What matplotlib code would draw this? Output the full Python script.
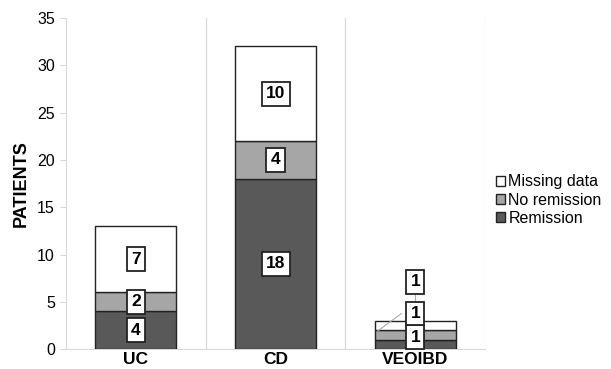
import numpy as np
import matplotlib.pyplot as plt

categories = ['UC', 'CD', 'VEOIBD']
remission = [4, 18, 1]
no_remission = [2, 4, 1]
missing = [7, 10, 1]
series_names = ['Remission', 'No remission', 'Missing data']
colors = ['#595959', '#a6a6a6', '#ffffff']

fig = plt.figure(figsize=(6.11, 3.69), dpi=100)
ax = fig.add_axes([0.108, 0.054, 0.686, 0.897])

x = np.arange(len(categories))
w = 0.58
bottom = np.zeros(len(categories))
handles = []
for vals, name, c in zip([remission, no_remission, missing], series_names, colors):
    b = ax.bar(x, vals, w, bottom=bottom, color=c, edgecolor='#222222', lw=1.0,
               label=name, zorder=3)
    handles.append(b)
    bottom = bottom + np.array(vals)

box = dict(boxstyle='square,pad=0.25', fc='white', ec='#222222', lw=1.3)
lab = dict(ha='center', va='center', fontsize=12.5, fontweight='bold', bbox=box,
           zorder=5, family='Liberation Sans')
# labels for the two tall bars, in segment centres
for i in range(2):
    base = 0
    for vals in [remission, no_remission, missing]:
        ax.text(x[i], base + vals[i] / 2, str(vals[i]), **lab)
        base += vals[i]

# VEOIBD labels are pushed upward with leader lines
i = 2
ax.text(x[i], 1.25, str(remission[i]), **lab)
ax.plot([x[i] - 0.27, x[i] - 0.1], [remission[i] + no_remission[i] / 2 + 0.4, 3.75],
        color='#aaaaaa', lw=0.8, zorder=4)
ax.text(x[i], 3.75, str(no_remission[i]), **lab)
ax.plot([x[i], x[i]], [3.75, 7.1], color='#aaaaaa', lw=0.8, zorder=4)
ax.text(x[i], 7.1, str(missing[i]), **lab)

ax.set_xlim(-0.5, 2.5)
ax.set_ylim(0, 35)
ax.set_yticks(range(0, 36, 5))
ax.set_xticks(x)
ax.set_xticklabels(categories, fontsize=12.5, fontweight='bold', family='Liberation Sans')
ax.tick_params(axis='x', length=0, pad=2)
ax.tick_params(axis='y', length=4, color='#d9d9d9', labelsize=11.5, pad=4)
for t in ax.get_yticklabels():
    t.set_family('Liberation Sans')
for xv in [0.5, 1.5, 2.5]:
    ax.axvline(xv, color='#d9d9d9', lw=0.9, zorder=1)
for s in ['top', 'right']:
    ax.spines[s].set_visible(False)
ax.spines['left'].set_color('#d9d9d9')
ax.spines['bottom'].set_color('#d9d9d9')
ax.set_ylabel('PATIENTS', fontsize=13, fontweight='bold', family='Liberation Sans',
              labelpad=5)

leg = ax.legend(handles[::-1], series_names[::-1], loc='center left',
                bbox_to_anchor=(1.0, 0.45), frameon=False, handlelength=0.55,
                handleheight=0.55, handletextpad=0.2, labelspacing=0.2,
                borderaxespad=0.3,
                prop={'family': 'Liberation Sans', 'size': 11.5})

fig.savefig('out.png', dpi=100)
